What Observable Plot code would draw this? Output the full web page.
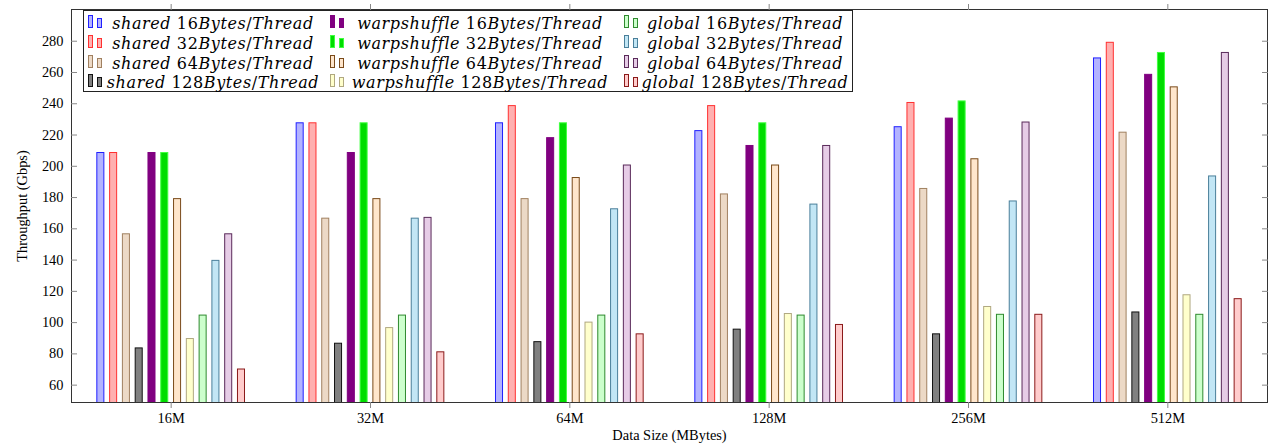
<!DOCTYPE html>
<html>
<head>
<meta charset="utf-8">
<script src="https://cdn.jsdelivr.net/npm/d3@7"></script>
<script src="https://cdn.jsdelivr.net/npm/@observablehq/plot@0.6"></script>
<style>
  html, body { margin: 0; padding: 0; background: #fff; }
  #wrap { position: relative; width: 1269px; height: 444px; }
  #legend { position: absolute; left: 83px; top: 10px; width: 770px; height: 82px;
            border: 1px solid #222; background: #fff; box-sizing: border-box; }
  .item { position: absolute; font-family: "DejaVu Serif"; font-size: 16px; white-space: nowrap;
          letter-spacing: 0.6px; transform: translate(-50%, -50%); line-height: 1; }
  .item i { font-style: italic; }
  .sw { position: absolute; box-sizing: border-box; border-width: 1px; border-style: solid; }
</style>
</head>
<body>
<div id="wrap"><div id="legend"></div></div>
<script>
// ---- data ----
const groups = ["16M", "32M", "64M", "128M", "256M", "512M"];
const seriesNames = [
  "shared 16Bytes/Thread", "shared 32Bytes/Thread", "shared 64Bytes/Thread", "shared 128Bytes/Thread",
  "warpshuffle 16Bytes/Thread", "warpshuffle 32Bytes/Thread", "warpshuffle 64Bytes/Thread", "warpshuffle 128Bytes/Thread",
  "global 16Bytes/Thread", "global 32Bytes/Thread", "global 64Bytes/Thread", "global 128Bytes/Thread"
];
const shared16  = [208.5, 227.5, 227.5, 222.5, 225.0, 269.0];
const shared32  = [208.5, 227.5, 238.5, 238.5, 240.5, 279.0];
const shared64  = [156.5, 166.5, 179.0, 182.0, 185.5, 221.5];
const shared128 = [83.5, 86.5, 87.5, 95.5, 92.5, 106.5];
const warp16    = [208.5, 208.5, 218.0, 213.0, 230.5, 258.5];
const warp32    = [208.5, 227.5, 227.5, 227.5, 241.5, 272.5];
const warp64    = [179.0, 179.0, 192.5, 200.5, 204.5, 250.5];
const warp128   = [89.5, 96.5, 100.0, 105.5, 110.0, 117.5];
const global16  = [104.5, 104.5, 104.5, 104.5, 105.0, 105.0];
const global32  = [139.5, 166.5, 172.5, 175.5, 177.5, 193.5];
const global64  = [156.5, 167.0, 200.5, 213.0, 228.0, 272.5];
const global128 = [70.0, 81.0, 92.5, 98.5, 105.0, 115.0];
const yTicks = [60, 80, 100, 120, 140, 160, 180, 200, 220, 240, 260, 280];

// ---- styles ----
const fills   = ["#b3b3ff", "#ffb0b0", "#ecd9c6", "#808080", "#800080", "#00dd00", "#ffe6cc", "#ffffcc", "#ccffcc", "#c2e6f5", "#e6cce6", "#ffcccc"];
const strokes = ["#2020ff", "#ff3030", "#a08060", "#111111", "#800080", "#40ff40", "#7a4a1a", "#b0a880", "#2f8a2f", "#4a7f9a", "#5a2a5a", "#8b1a1a"];

const values = [shared16, shared32, shared64, shared128, warp16, warp32, warp64, warp128, global16, global32, global64, global128];
const data = groups.flatMap((g, gi) => seriesNames.map((s, si) => ({
  group: g, series: s, value: values[si][gi], fill: fills[si], stroke: strokes[si]
})));

const yDomain = [48.9, 300.3];

const chart = Plot.plot({
  width: 1269, height: 444,
  marginLeft: 71, marginRight: 2, marginTop: 9, marginBottom: 42,
  style: { fontFamily: "Liberation Serif", fontSize: "14.4px", color: "#000", background: "#fff" },
  fx: { domain: groups, padding: 0, round: false },
  x: { domain: seriesNames, paddingInner: 0.45, paddingOuter: 2.02, round: false, axis: null },
  y: { domain: yDomain },
  color: { type: "identity" },
  marks: [
    Plot.barY(data, { fx: "group", x: "series", y: "value", fill: "fill", stroke: "stroke", strokeWidth: 1, clip: true }),
    Plot.frame({ facet: "super", stroke: "#333" }),
    Plot.axisY({ anchor: "left", ticks: yTicks, tickSize: -6, tickPadding: 14, stroke: "#888",
                 label: "Throughput (Gbps)", labelAnchor: "center", labelArrow: "none", labelOffset: 55 }),
    Plot.axisY({ anchor: "right", ticks: yTicks, tickSize: -6, stroke: "#888", tickFormat: () => "", label: null }),
    Plot.axisFx({ anchor: "bottom", tickSize: 6, tickPadding: 4, stroke: "#888",
                  label: "Data Size (MBytes)", labelAnchor: "center", labelArrow: "none", labelOffset: 37 }),
    Plot.axisFx({ anchor: "top", tickSize: 6, stroke: "#888", tickFormat: () => "", label: null })
  ]
});
document.getElementById("wrap").prepend(chart);

// ---- legend (pgfplots-style, transposed 3 columns) ----
const legend = document.getElementById("legend");
const colIcon = [4, 246, 540];      // icon x (relative to legend box)
const colText = [129, 396, 661];    // text centre x
const rowY = [12.5, 32.5, 52.5, 71.5];
seriesNames.forEach((name, i) => {
  const col = Math.floor(i / 4), row = i % 4;
  const [kind, rest] = name.split(" ");
  const m = rest.match(/^(\d+)(.*)$/);
  const sw1 = document.createElement("div");
  sw1.className = "sw";
  Object.assign(sw1.style, { left: colIcon[col] + "px", top: (rowY[row] - 9) + "px", width: "5px", height: "13px",
    background: fills[i], borderColor: strokes[i] });
  const sw2 = document.createElement("div");
  sw2.className = "sw";
  Object.assign(sw2.style, { left: (colIcon[col] + 9) + "px", top: (rowY[row] - 6) + "px", width: "5px", height: "10px",
    background: fills[i], borderColor: strokes[i] });
  const t = document.createElement("div");
  t.className = "item";
  t.style.left = colText[col] + "px";
  t.style.top = rowY[row] + "px";
  t.innerHTML = `<i>${kind}</i> ${m[1]}<i>${m[2].replace("/", "</i>/<i>")}</i>`;
  legend.append(sw1, sw2, t);
});
</script>
</body>
</html>
